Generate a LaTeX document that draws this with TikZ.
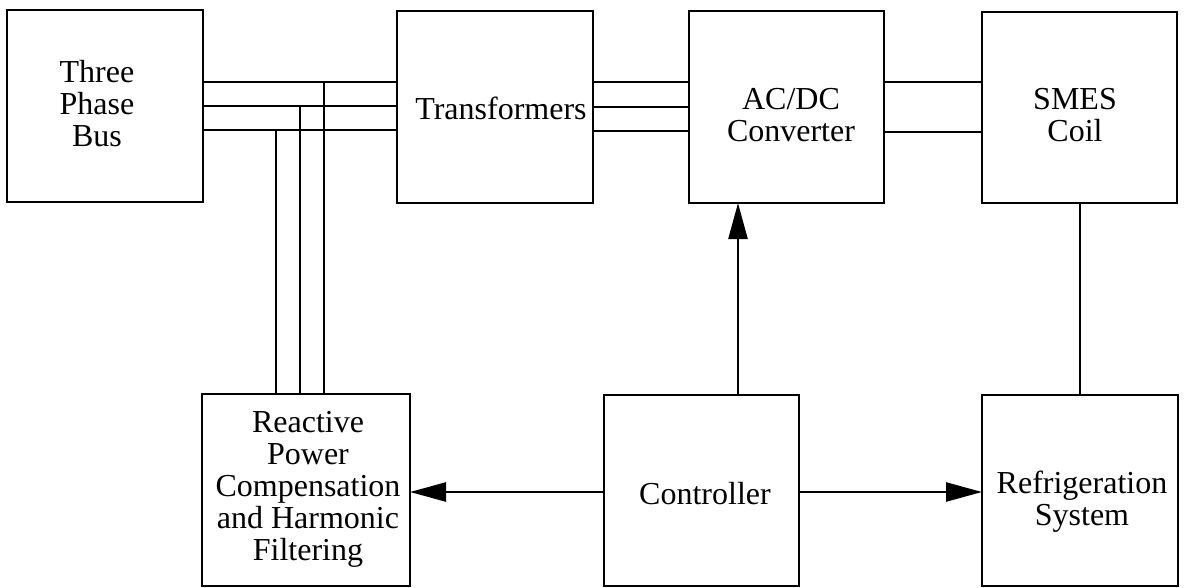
\documentclass[tikz,border=0pt]{standalone}
\usepackage{fontspec}
\setmainfont{Liberation Serif}
\usetikzlibrary{arrows.meta}
\begin{document}
\begin{tikzpicture}[x=0.5pt,y=-0.5pt,
  blk/.style={draw=black,line width=1.4pt,inner sep=0pt,outer sep=0pt,fill=none},
  lbl/.style={inner sep=0pt,align=center,font=\fontsize{16}{16}\selectfont},
  wire/.style={line width=1.1pt},
  sig/.style={line width=1.25pt,-{Triangle[length=18pt,width=9.5pt]}}]
\useasboundingbox (0,0) rectangle (1187,588);
% boxes
\node[blk,minimum width=98pt,minimum height=96pt] (bus) at (105,106) {};
\node[blk,minimum width=98pt,minimum height=96pt] (trans) at (495,107) {};
\node[blk,minimum width=97.5pt,minimum height=96pt] (acdc) at (786.5,107) {};
\node[blk,minimum width=97.5pt,minimum height=95.5pt] (smes) at (1079.5,107.5) {};
\node[blk,minimum width=104pt,minimum height=96pt] (rpc) at (306,490) {};
\node[blk,minimum width=97.5pt,minimum height=95.5pt] (ctrl) at (701.5,490.5) {};
\node[blk,minimum width=98pt,minimum height=95.5pt] (refr) at (1080,490.5) {};
% labels
\node[lbl] (busT) at (97,104) {Three\\Phase\\Bus};
\node[lbl] (transT) at (501,108.5) {Transformers};
\node[lbl] (acdcT) at (791,115) {AC/DC\\Converter};
\node[lbl] (smesT) at (1075,115) {SMES\\Coil};
\node[lbl] (rpcT) at (308,489) {Reactive\\Power\\Compensation\\and Harmonic\\Filtering};
\node[lbl] (ctrlT) at (705,494) {Controller};
\node[lbl] (refrT) at (1082,502) {Refrigeration\\System};
% three phase bus lines
\draw[wire] (bus.east |- 0,82) -- (trans.west |- 0,82);
\draw[wire] (bus.east |- 0,106) -- (trans.west |- 0,106);
\draw[wire] (bus.east |- 0,130) -- (trans.west |- 0,130);
\coordinate (ja) at (324,82);
\coordinate (jb) at (300,106);
\coordinate (jc) at (276,130);
\draw[wire] (ja) -- (rpc.north -| ja);
\draw[wire] (jb) -- (rpc.north -| jb);
\draw[wire] (jc) -- (rpc.north -| jc);
% transformers to converter
\draw[wire] (trans.east |- 0,82) -- (acdc.west |- 0,82);
\draw[wire] (trans.east |- 0,107) -- (acdc.west |- 0,107);
\draw[wire] (trans.east |- 0,131) -- (acdc.west |- 0,131);
% converter to coil
\draw[wire] (acdc.east |- 0,82) -- (smes.west |- 0,82);
\draw[wire] (acdc.east |- 0,132) -- (smes.west |- 0,132);
% coil to refrigeration
\draw[wire] (smes.south -| 1080,0) -- (refr.north -| 1080,0);
% controller arrows
\draw[sig] (ctrl.north -| 738,0) -- (acdc.south -| 738,0);
\draw[sig] (ctrl.west |- 0,492) -- (rpc.east |- 0,492);
\draw[sig] (ctrl.east |- 0,492) -- (refr.west |- 0,492);
\end{tikzpicture}
\end{document}
